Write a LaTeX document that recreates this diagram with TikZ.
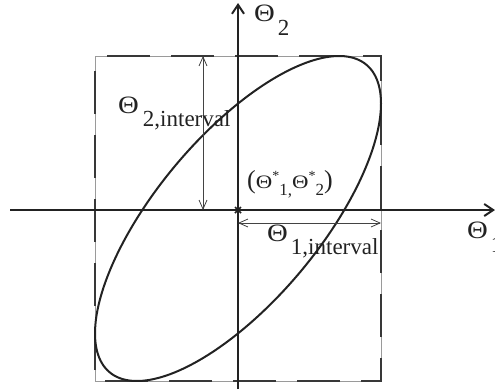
\documentclass[tikz,border=0pt]{standalone}
\usepackage{fontspec}
\setmainfont{Liberation Serif}
\usetikzlibrary{arrows.meta,calc}
\definecolor{ink}{HTML}{222222}
\definecolor{boxgray}{HTML}{9A9A9A}
\newcommand{\bigTh}{\scalebox{1.15}[1]{\fontsize{25}{25}\selectfont Θ}}
\newcommand{\smTh}{\scalebox{1.2}[1]{\fontsize{19}{19}\selectfont Θ}}
\tikzset{
  axisline/.style={draw=ink, line width=2pt, -{Straight Barb[length=9pt,width=12pt,line width=2pt]}},
  ellline/.style={draw=ink, line width=2pt},
  boxbase/.style={draw=boxgray, line width=0.8pt},
  boxdash/.style={draw=ink!90, line width=2pt, dash pattern=on 43pt off 21pt, dash phase=52pt},
  dimline/.style={draw=ink!85, line width=0.8pt, {Straight Barb[length=9pt,width=8pt]}-{Straight Barb[length=9pt,width=8pt]}},
  lbl/.style={anchor=base west, inner sep=0pt, text=ink, font=\fontsize{23}{23}\selectfont},
}
\begin{document}
\begin{tikzpicture}[x=1pt,y=-1pt]
\useasboundingbox (0,0) rectangle (495,389);
% coordinates
\coordinate (O) at (238,210);
\coordinate (xl) at (10,210);
\coordinate (xr) at (495,210);
\coordinate (yb) at (238,389);
\coordinate (yt) at (238,3);
\coordinate (tl) at (95,56);
\coordinate (br) at (381,381);
\coordinate (d2t) at (203,56);
\coordinate (d2b) at (203,210);
\coordinate (d1l) at (238,223);
\coordinate (d1r) at (381,223);
% box
\draw[boxbase] (tl) rectangle (br);
\draw[boxdash] (95,56) -- (381,56) -- (381,381) -- (95,381) -- cycle;
% ellipse
\draw[ellline] plot[domain=0:360, samples=181, smooth cycle] ({238+143*cos(\x)},{218.5-162.5*cos(\x-45)});
% axes
\draw[axisline] (xl) -- (xr);
\draw[axisline] (yb) -- (yt);
% origin mark
\draw[ink, line width=1.6pt] ($(O)+(-3,-3)$) -- ($(O)+(3,3)$) ($(O)+(-3,3)$) -- ($(O)+(3,-3)$);
% dimension arrows
\draw[dimline] (d2t) -- (d2b);
\draw[dimline] (d1l) -- (d1r);
% labels
\node[lbl] (t2) at (254,21) {\bigTh\hspace{3pt}\raisebox{-14pt}{2}};
\node[lbl] (t1) at (467,238) {\bigTh\hspace{3pt}\raisebox{-14pt}{1}};
\node[lbl] (t2i) at (118,113) {\bigTh\hspace{4pt}\raisebox{-13pt}{2,interval}};
\node[lbl] (t1i) at (267,241) {\bigTh\hspace{3pt}\raisebox{-13pt}{1,interval}};
\node[anchor=base west, inner sep=0pt, text=ink] (c) at (247,188)
  {\fontsize{26}{26}\selectfont(\smTh\raisebox{8pt}{\fontsize{14}{14}\selectfont *}\raisebox{-7pt}{\fontsize{17}{17}\selectfont 1,}\smTh\raisebox{8pt}{\fontsize{14}{14}\selectfont *}\raisebox{-7pt}{\fontsize{17}{17}\selectfont 2}\fontsize{26}{26}\selectfont)};
\end{tikzpicture}
\end{document}
